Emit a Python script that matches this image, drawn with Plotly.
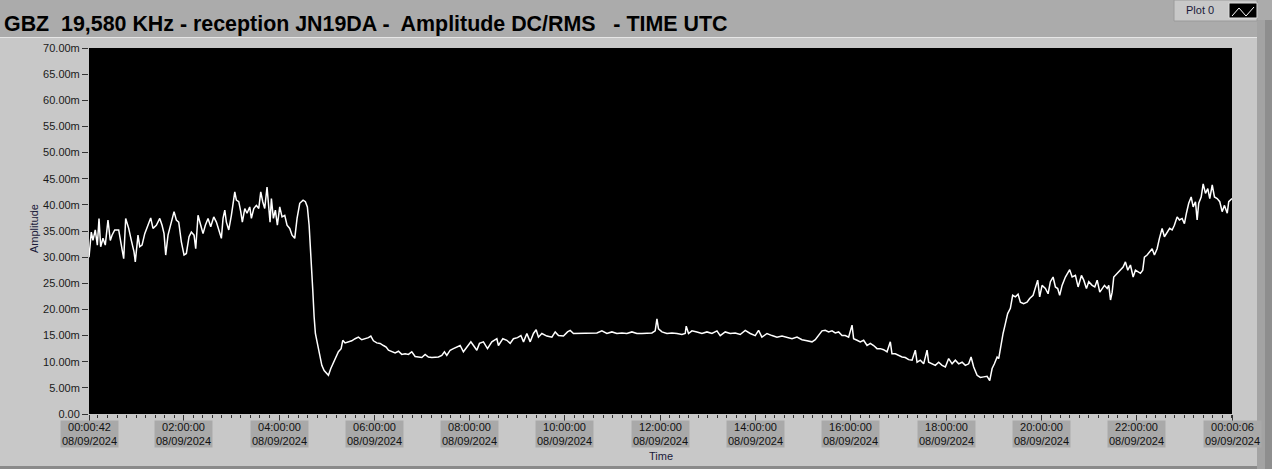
import plotly.graph_objects as go
import pandas as pd

# ---- data: minutes after 08/09/2024 00:00 UTC, amplitude in mV
minutes = [
    0.7, 3.6, 5.7, 8.6, 11.2, 13.3, 15.4, 18.3, 21.2, 24.6, 27.5, 29.7, 33.1, 38.1, 41.4, 44.4,
    46.9, 50.7, 54.0, 57.4, 59.0, 62.4, 64.6, 67.5, 70.9, 75.0, 78.4, 81.3, 85.5, 89.8, 92.7,
    95.2, 97.3, 100.2, 104.4, 107.8, 110.7, 113.7, 117.0, 120.4, 123.3, 126.7, 129.6, 133.0,
    135.1, 138.0, 141.4, 144.3, 147.2, 150.6, 154.0, 157.8, 161.1, 164.5, 167.4, 169.5, 171.7,
    173.7, 176.7, 180.0, 182.1, 184.3, 186.3, 189.3, 191.8, 193.8, 196.9, 199.7, 203.1, 205.2,
    208.2, 211.5, 214.5, 217.0, 219.5, 222.0, 224.9, 227.1, 228.7, 230.4, 232.9, 235.4, 237.9,
    240.9, 243.8, 247.2, 250.1, 253.5, 256.4, 259.8, 262.7, 266.1, 270.3, 273.2, 275.7, 277.9,
    279.1, 281.3, 282.5, 284.2, 285.8, 288.3, 290.9, 293.9, 296.8, 300.2, 302.2, 305.2, 308.5,
    311.9, 314.8, 318.2, 320.3, 323.2, 327.4, 331.6, 335.8, 340.0, 344.2, 348.4, 352.6, 355.6,
    358.9, 363.1, 367.3, 371.5, 374.9, 377.8, 382.0, 386.2, 390.4, 394.6, 398.8, 403.0, 407.2,
    411.4, 415.5, 419.8, 424.0, 428.1, 432.4, 436.6, 440.7, 445.0, 448.3, 451.3, 455.5, 459.6,
    463.9, 468.1, 472.2, 476.5, 481.6, 484.9, 489.1, 492.4,
    497.4, 502.5, 508.0, 514.3, 516.3, 521.9, 526.9, 531.1, 535.2, 540.3, 544.6, 547.9, 552.1,
    556.3, 560.4, 563.8, 566.7, 571.0, 577.3, 583.6, 587.8, 591.9, 598.2, 603.3, 606.7, 610.8,
    617.1, 623.4, 631.9, 640.3, 646.6, 652.9, 659.2, 665.5, 671.8, 678.1, 684.4, 690.7, 697.0,
    703.3, 709.6, 713.7, 715.9, 717.9, 722.2, 728.5, 734.8, 741.1, 747.4, 751.5, 752.8, 755.7,
    760.0, 766.3, 772.6, 778.9, 785.2, 791.5, 795.6, 801.9, 808.2, 814.5, 820.8, 827.1, 833.4,
    839.7, 843.9, 848.1, 854.5, 860.8, 867.1, 873.4, 879.7, 886.0, 892.3, 898.6, 904.9, 911.2,
    915.3, 919.5, 923.8, 927.9, 932.1, 936.4, 940.5, 944.7, 949.0, 953.1, 957.3, 961.6, 963.6,
    967.9, 972.0, 976.2, 980.5, 984.6, 988.8, 993.1, 997.2, 1001.4, 1005.7, 1009.8, 1011.9,
    1016.1, 1020.3, 1024.6, 1028.7, 1032.9, 1037.2, 1041.3, 1043.5, 1047.6, 1051.8, 1056.1,
    1058.1, 1062.4, 1066.5, 1070.7, 1075.0, 1079.1, 1083.3, 1087.6, 1091.7, 1095.9, 1100.2,
    1104.3, 1108.5, 1111.5, 1114.8, 1119.1, 1123.2, 1127.4, 1131.7, 1135.0, 1138.0, 1140.9,
    1144.3, 1146.3, 1149.3, 1151.8, 1154.7, 1157.6, 1161.0, 1163.9, 1167.3, 1170.7, 1173.6,
    1177.7, 1182.0, 1185.3, 1189.6, 1192.5, 1195.4, 1197.9, 1200.9, 1205.1, 1208.5, 1211.4,
    1214.8, 1217.7, 1220.6, 1223.1, 1226.1, 1230.3, 1233.2, 1235.7, 1238.8, 1242.9, 1246.3,
    1250.5, 1253.4, 1256.8, 1259.7, 1264.0, 1267.3, 1270.3, 1273.6, 1276.6, 1279.5, 1282.9,
    1284.9, 1287.1, 1289.2, 1291.2, 1295.5, 1299.6, 1303.0, 1305.9, 1308.8, 1312.2, 1315.6,
    1318.5, 1321.4, 1324.8, 1327.7, 1329.8, 1333.2, 1336.5, 1339.5, 1342.4, 1345.8, 1348.7,
    1352.1, 1355.0, 1358.4, 1361.6, 1364.7, 1367.5, 1371.0, 1373.9, 1377.3, 1380.2, 1382.7,
    1385.6, 1388.7, 1391.2, 1394.1, 1396.2, 1398.2, 1401.3, 1403.8, 1406.7, 1409.6, 1412.1,
    1415.2, 1418.0, 1421.4, 1424.7, 1427.7, 1430.6, 1434.1, 1436.0, 1440.1,
]
amplitude_mV = [
    30.0, 34.8, 33.2, 35.2, 32.3, 37.4, 32.0, 33.6, 32.3, 37.1, 33.2, 34.2, 35.2, 35.2, 32.3, 29.7,
    37.4, 35.5, 33.2, 31.0, 29.1, 34.2, 32.0, 32.3, 34.5, 36.1, 37.5, 35.5, 36.1, 37.4, 36.1,
    34.5, 30.4, 34.2, 36.7, 38.7, 37.1, 36.7, 32.9, 30.4, 30.7, 33.9, 34.8, 34.2,
    31.6, 38.0, 36.1, 34.5, 36.1, 37.4, 35.8, 37.7, 36.7, 35.2, 33.6, 37.4, 39.0,
    36.7, 35.2, 38.0, 39.9, 42.5, 40.9, 40.6, 38.7, 36.7, 39.3, 38.4, 39.6, 37.4,
    39.3, 39.9, 39.3, 42.5, 40.6, 39.3, 43.4, 39.9, 36.7, 41.2, 37.4, 39.0, 36.1,
    39.6, 37.7, 38.0, 36.1, 35.5, 34.2, 33.6, 37.4, 40.3, 40.9, 40.6, 39.6, 36.1,
    33.2, 28.1, 23.7, 18.6, 15.4, 13.5, 11.5, 9.3, 8.3, 7.7, 7.4, 8.7, 9.9,
    10.9, 11.9, 12.5, 14.1, 13.6, 13.8, 14.0, 14.4, 14.7, 14.2, 14.4, 14.6, 14.9,
    14.0, 13.6, 13.5, 13.1, 12.8, 12.2, 11.9, 11.7, 12.0, 11.4, 11.5, 11.4, 11.9,
    11.0, 10.9, 10.8, 11.4, 10.9, 10.8, 10.8, 10.9, 11.2, 11.9, 11.2, 12.2, 12.5,
    12.8, 13.1, 11.9, 12.8, 13.8, 13.1, 12.2, 13.5,
    13.8, 12.5, 13.8, 14.4, 13.1, 14.4, 14.1, 13.5, 14.4, 14.6, 15.0, 13.8, 15.4,
    13.8, 15.4, 16.1, 14.7, 15.4, 14.9, 14.7, 15.7, 15.0, 14.9, 15.7, 16.0, 15.4,
    15.4, 15.5, 15.4, 15.5, 15.9, 15.4, 15.7, 15.4, 15.5, 15.4, 15.7, 15.4, 15.4,
    15.4, 15.5, 15.9, 18.2, 16.3, 15.7, 15.4, 15.5, 15.4, 15.2, 15.4, 16.8, 15.4,
    15.9, 15.7, 15.4, 15.7, 15.4, 15.9, 15.0, 15.7, 15.4, 15.5, 15.2, 16.0, 15.4,
    15.0, 16.0, 14.7, 15.4, 15.0, 14.7, 14.9, 14.7, 14.4, 14.7, 14.2, 14.0, 13.8,
    14.2, 15.0, 15.9, 16.0, 15.7, 15.9, 15.5, 15.7, 15.0, 15.0, 14.7, 17.0, 14.4,
    14.1, 13.8, 14.1, 13.1, 13.5, 13.1, 12.5, 12.5, 12.3, 11.9, 13.8, 11.5,
    11.5, 11.2, 10.9, 10.8, 10.4, 10.3, 12.2, 9.9, 10.3, 9.6, 12.2,
    9.9, 9.6, 9.3, 9.9, 9.3, 9.0, 10.6, 9.6, 10.3, 9.6, 9.9,
    9.3, 9.6, 10.9, 9.0, 7.4, 7.0, 7.1, 7.2, 6.4, 8.7, 9.6,
    10.9, 10.6, 13.5, 15.4, 17.3, 19.2, 20.2, 22.7, 22.4, 22.9, 21.4,
    21.1, 21.4, 22.1, 22.7, 24.3, 25.6, 22.4, 24.6, 24.0, 23.0, 25.3,
    26.2, 24.3, 24.0, 22.7, 24.6, 26.2, 26.9, 27.6, 26.2, 26.5, 24.3,
    26.5, 25.6, 24.0, 25.3, 24.6, 24.3, 25.6, 23.3, 24.0, 24.6, 24.0,
    24.6, 21.8, 23.3, 26.2, 26.9, 27.5, 28.1, 29.1, 27.5, 28.5, 26.2,
    27.5, 27.2, 26.9, 27.5, 30.0, 30.4, 31.0, 31.6, 30.4, 31.6, 33.6,
    35.5, 33.9, 34.8, 35.5, 35.2, 36.1, 37.7, 37.1, 37.4, 36.4, 38.4,
    40.3, 41.5, 39.6, 40.6, 37.1, 40.3, 41.5, 44.0, 42.2, 43.1, 41.2,
    43.8, 41.5, 41.2, 40.6, 38.7, 39.9, 38.4, 40.6, 41.2,
]

y_tick_values = [0, 5, 10, 15, 20, 25, 30, 35, 40, 45, 50, 55, 60, 65, 70]
y_tick_labels = ["0.00", "5.00m", "10.00m", "15.00m", "20.00m", "25.00m", "30.00m", "35.00m",
                 "40.00m", "45.00m", "50.00m", "55.00m", "60.00m", "65.00m", "70.00m"]
x_tick_times = ["2024-09-08 00:00:42", "2024-09-08 02:00:00", "2024-09-08 04:00:00",
                "2024-09-08 06:00:00", "2024-09-08 08:00:00", "2024-09-08 10:00:00",
                "2024-09-08 12:00:00", "2024-09-08 14:00:00", "2024-09-08 16:00:00",
                "2024-09-08 18:00:00", "2024-09-08 20:00:00", "2024-09-08 22:00:00",
                "2024-09-09 00:00:06"]
x_tick_labels = ["00:00:42<br>08/09/2024", "02:00:00<br>08/09/2024", "04:00:00<br>08/09/2024",
                 "06:00:00<br>08/09/2024", "08:00:00<br>08/09/2024", "10:00:00<br>08/09/2024",
                 "12:00:00<br>08/09/2024", "14:00:00<br>08/09/2024", "16:00:00<br>08/09/2024",
                 "18:00:00<br>08/09/2024", "20:00:00<br>08/09/2024", "22:00:00<br>08/09/2024",
                 "00:00:06<br>09/09/2024"]

title_text = "GBZ\u00a0 19,580 KHz - reception JN19DA -\u00a0 Amplitude DC/RMS\u00a0\u00a0 - TIME UTC"

times = pd.Timestamp("2024-09-08") + pd.to_timedelta(minutes, unit="m")

W, H = 1272, 469
ML, MR, MT, MB = 89, 40, 48, 55
PW, PH = W - ML - MR, H - MT - MB


def px(x):
    return (x - ML) / PW


def py(y):
    return (H - MB - y) / PH


fig = go.Figure()
fig.add_trace(go.Scatter(x=times, y=amplitude_mV, mode="lines",
                         line=dict(color="white", width=1.5), name="Plot 0",
                         showlegend=False, hoverinfo="skip"))

FONT = "Liberation Sans"
shapes = [
    # light panel
    dict(type="rect", xref="paper", yref="paper", x0=px(0), x1=px(1257), y0=py(466), y1=py(37),
         fillcolor="#c8c8c8", line=dict(width=0), layer="below"),
    dict(type="line", xref="paper", yref="paper", x0=px(0), x1=px(1257), y0=py(37.5), y1=py(37.5),
         line=dict(color="#e6e6e6", width=1), layer="below"),
    # plot area (black)
    dict(type="rect", xref="paper", yref="paper", x0=0, x1=1, y0=0, y1=1,
         fillcolor="black", line=dict(width=0), layer="below"),
    # right strip
    dict(type="rect", xref="paper", yref="paper", x0=px(1257), x1=px(1265), y0=py(469), y1=py(20),
         fillcolor="#a3a3a3", line=dict(width=0), layer="below"),
    dict(type="rect", xref="paper", yref="paper", x0=px(1265), x1=px(1272), y0=py(469), y1=py(20),
         fillcolor="#8e8e8e", line=dict(width=0), layer="below"),
    # bottom dark line
    dict(type="rect", xref="paper", yref="paper", x0=px(0), x1=px(1257), y0=py(469), y1=py(466),
         fillcolor="#8a8a8a", line=dict(width=0), layer="below"),
    # legend box
    dict(type="rect", xref="paper", yref="paper", x0=px(1174), x1=px(1257), y0=py(21), y1=py(0),
         fillcolor="#c8c8c8", line=dict(color="#9a9a9a", width=1), layer="below"),
    dict(type="rect", xref="paper", yref="paper", x0=px(1229), x1=px(1257), y0=py(18), y1=py(3),
         fillcolor="black", line=dict(color="#e0e0e0", width=1), layer="above"),
    dict(type="path", xref="paper", yref="paper",
         path="M {} {} L {} {} L {} {} L {} {}".format(px(1232), py(16), px(1239), py(8),
                                                      px(1246), py(16), px(1254), py(7)),
         line=dict(color="white", width=1), layer="above"),
]

annotations = [
    dict(text="<b>" + title_text + "</b>", xref="paper", yref="paper", x=px(2), y=py(23.5),
         xanchor="left", yanchor="middle", showarrow=False,
         font=dict(family=FONT, size=21.4, color="#000000")),
    dict(text="Plot 0", xref="paper", yref="paper", x=px(1200), y=py(10.5),
         xanchor="center", yanchor="middle", showarrow=False,
         font=dict(family=FONT, size=11, color="#1a1a3a")),
    dict(text="Time", xref="paper", yref="paper", x=0.5, y=py(456),
         xanchor="center", yanchor="middle", showarrow=False,
         font=dict(family=FONT, size=11, color="#1a1a3a")),
    dict(text="Amplitude", xref="paper", yref="paper", x=px(34), y=py(229),
         xanchor="center", yanchor="middle", showarrow=False, textangle=-90,
         font=dict(family=FONT, size=11, color="#1a1a3a")),
]
for t, lab in zip(x_tick_times, x_tick_labels):
    annotations.append(dict(text=lab, x=t, xref="x", yref="paper", y=py(434),
                            xanchor="center", yanchor="middle", showarrow=False,
                            bgcolor="#a9a9a9", width=57, height=26, borderpad=0,
                            font=dict(family=FONT, size=11, color="#111111")))

fig.update_layout(
    width=W, height=H,
    margin=dict(l=ML, r=MR, t=MT, b=MB, pad=0),
    paper_bgcolor="#ababab",
    plot_bgcolor="black",
    shapes=shapes,
    annotations=annotations,
    showlegend=False,
    xaxis=dict(type="date", range=[x_tick_times[0], x_tick_times[-1]],
               tickvals=x_tick_times, showticklabels=False,
               ticks="outside", ticklen=6, tickcolor="#333333", tickwidth=1,
               minor=dict(dtick=12 * 60 * 1000, tick0="2024-09-08 00:00:00",
                          ticks="outside", ticklen=3, tickcolor="#333333"),
               showgrid=False, zeroline=False, showline=False),
    yaxis=dict(range=[0, 70], tickvals=y_tick_values, ticktext=y_tick_labels,
               ticks="outside", ticklen=6, tickcolor="#333333", tickwidth=1,
               tickfont=dict(family=FONT, size=11, color="#1a1a1a"),
               showgrid=False, zeroline=False, showline=False),
)

fig.write_html("out.html", config={"displayModeBar": False},
               post_script="document.body.style.margin='0';")
